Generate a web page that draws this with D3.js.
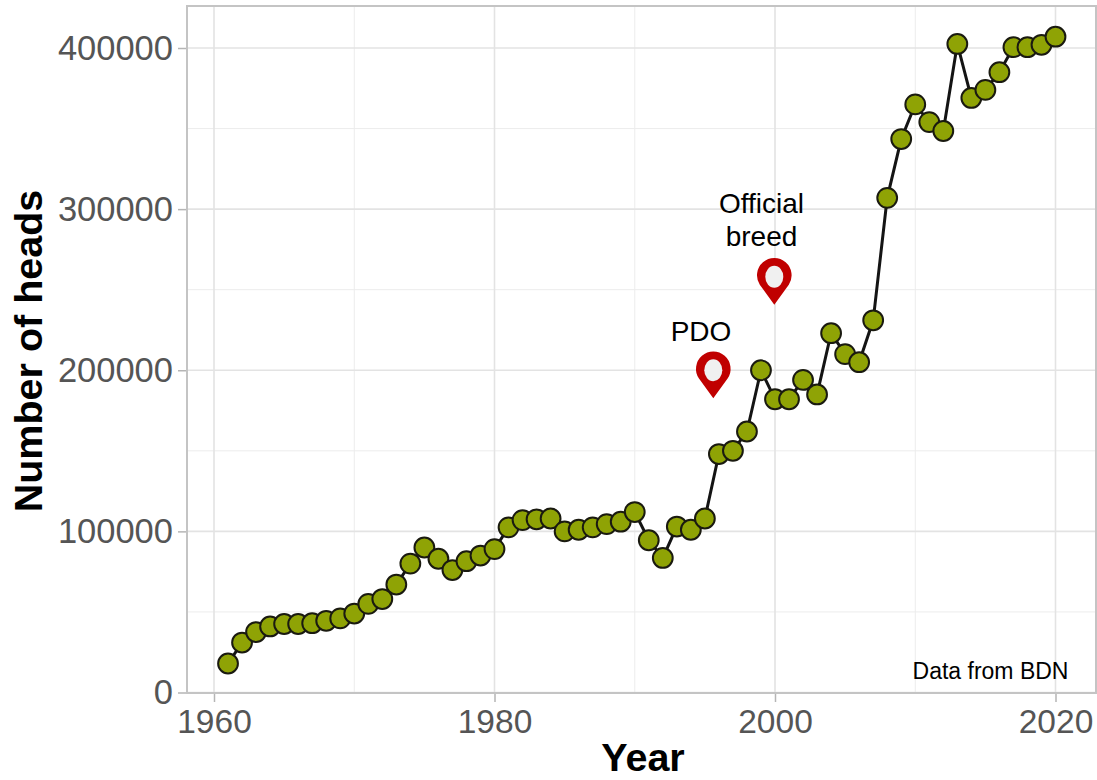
<!DOCTYPE html>
<html lang="en">
<head>
    <title>Number of heads</title>
    <script src="https://d3js.org/d3.v7.min.js"></script>
    <style>
        body { margin: 0; background: #fff; }
        text { font-family: "Liberation Sans", Arial, sans-serif; }
    </style>
</head>
<body>
<script>
    // Data
    const years = d3.range(1961, 2021);
    const heads = [
        18000, 31000, 37500, 41000, 42500, 42500, 43000, 44500, 46000, 49000,
        55000, 58000, 67000, 80000, 90000, 83000, 76000, 81500, 85000, 89000,
        102500, 107000, 107500, 108000, 100000, 101000, 102500, 104500, 106000, 112000,
        94500, 83500, 103000, 101000, 108000, 148000, 150000, 162000, 200000, 182000,
        182000, 194000, 185000, 223000, 210000, 205000, 231000, 307000, 343500, 365000,
        354000, 348500, 402500, 369000, 374000, 385000, 400500, 400500, 402000, 407000
    ];
    const xTicks = [1960, 1980, 2000, 2020];
    const xMinor = [1970, 1990, 2010];
    const yTicks = [0, 100000, 200000, 300000, 400000];
    const yMinor = [50000, 150000, 250000, 350000];
    const pinLabels = [["PDO"], ["Official", "breed"]];
    const pinYears = [1995.6, 1999.95];
    const pinValues = [200000, 258000];

    // Set Dimensions
    const width = 1097, height = 780;
    const panel = { left: 187, right: 1096, top: 6, bottom: 693 };

    const svg = d3.select("body").append("svg")
        .attr("width", width)
        .attr("height", height)
        .style("display", "block");

    // Scales: 1960 at 214px, 2020 at 1055.5px, 0 at 692.5px, 400000 at 48px
    const x = d3.scaleLinear()
        .domain([1960, 2020])
        .range([214, 1055.5]);
    const y = d3.scaleLinear()
        .domain([0, 400000])
        .range([692.5, 48]);

    // Grid lines
    const grid = svg.append("g");
    grid.selectAll(".vminor").data(xMinor).enter().append("line")
        .attr("x1", d => x(d)).attr("x2", d => x(d))
        .attr("y1", panel.top).attr("y2", panel.bottom)
        .attr("stroke", "#ececec").attr("stroke-width", 1);
    grid.selectAll(".hminor").data(yMinor).enter().append("line")
        .attr("x1", panel.left).attr("x2", panel.right)
        .attr("y1", d => y(d)).attr("y2", d => y(d))
        .attr("stroke", "#ececec").attr("stroke-width", 1);
    grid.selectAll(".vmajor").data(xTicks).enter().append("line")
        .attr("x1", d => x(d)).attr("x2", d => x(d))
        .attr("y1", panel.top).attr("y2", panel.bottom)
        .attr("stroke", "#e3e3e3").attr("stroke-width", 1.6);
    grid.selectAll(".hmajor").data(yTicks).enter().append("line")
        .attr("x1", panel.left).attr("x2", panel.right)
        .attr("y1", d => y(d)).attr("y2", d => y(d))
        .attr("stroke", "#e3e3e3").attr("stroke-width", 1.6);

    // Axes
    const xAxis = svg.append("g")
        .attr("transform", `translate(0,${panel.bottom})`)
        .call(d3.axisBottom(x).tickValues(xTicks).tickFormat(d3.format("d")).tickSize(9).tickPadding(7));
    const yAxis = svg.append("g")
        .attr("transform", `translate(${panel.left},0)`)
        .call(d3.axisLeft(y).tickValues(yTicks).tickFormat(d3.format("d")).tickSize(9).tickPadding(5));
    xAxis.selectAll("text").style("font-size", "33.5px");
    yAxis.selectAll("text").style("font-size", "34.5px");
    [xAxis, yAxis].forEach(a => {
        a.select(".domain").remove();
        a.selectAll("line").attr("stroke", "#b5b5b5").attr("stroke-width", 1.5);
        a.selectAll("text")
            .attr("fill", "#555555")
            .style("font-family", '"Liberation Sans", Arial, sans-serif');
    });

    // Panel border
    svg.append("rect")
        .attr("x", panel.left).attr("y", panel.top)
        .attr("width", panel.right - panel.left)
        .attr("height", panel.bottom - panel.top)
        .attr("fill", "none")
        .attr("stroke", "#c4c4c4")
        .attr("stroke-width", 2);

    // Line
    const line = d3.line()
        .x((d, i) => x(years[i]))
        .y(d => y(d));
    svg.append("path")
        .datum(heads)
        .attr("fill", "none")
        .attr("stroke", "#141414")
        .attr("stroke-width", 3)
        .attr("d", line);

    // Points
    svg.selectAll(".pt").data(heads).enter().append("circle")
        .attr("cx", (d, i) => x(years[i]))
        .attr("cy", d => y(d))
        .attr("r", 9.9)
        .attr("fill", "#8fa305")
        .attr("stroke", "#1a1a10")
        .attr("stroke-width", 2);

    // Pins, anchored on the centre of the head
    const pins = svg.selectAll(".pin").data(pinYears).enter().append("g")
        .attr("transform", (d, i) => `translate(${x(d)},${y(pinValues[i])})`);
    pins.append("path")
        .attr("d", "M0,28 L-14.5,8 A17.3,17.3 0 1 1 14.5,8 Z")
        .attr("fill", "#c00000");
    pins.append("ellipse")
        .attr("cx", 0).attr("cy", 0)
        .attr("rx", 9).attr("ry", 11)
        .attr("fill", "#f0f0f0");

    // Pin labels
    const labelX = [701, 761.5];
    const labelY = [341, 213];
    pinLabels.forEach((lines, i) => {
        lines.forEach((t, j) => {
            svg.append("text")
                .attr("x", labelX[i])
                .attr("y", labelY[i] + j * 33)
                .attr("text-anchor", "middle")
                .attr("fill", "#000")
                .style("font-size", "28px")
                .text(t);
        });
    });

    // Note
    svg.append("text")
        .attr("x", 990.5).attr("y", 679)
        .attr("text-anchor", "middle")
        .attr("fill", "#000")
        .style("font-size", "23px")
        .text("Data from BDN");

    // Axis titles
    svg.append("text")
        .attr("x", 643).attr("y", 771)
        .attr("text-anchor", "middle")
        .attr("fill", "#000")
        .style("font-size", "39.5px")
        .style("font-weight", "bold")
        .text("Year");
    svg.append("text")
        .attr("transform", "translate(42,351) rotate(-90)")
        .attr("text-anchor", "middle")
        .attr("fill", "#000")
        .style("font-size", "39.5px")
        .style("font-weight", "bold")
        .text("Number of heads");
</script>
</body>
</html>
